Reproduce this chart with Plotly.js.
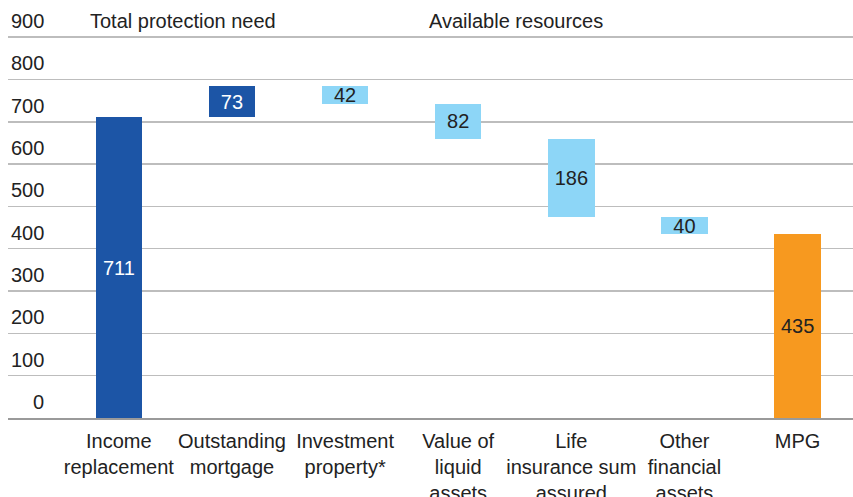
<!DOCTYPE html>
<html>
<head>
<meta charset="utf-8">
<script src="https://cdn.plot.ly/plotly-3.0.1.min.js"></script>
<style>
html,body{margin:0;padding:0;background:#fff;}
#chart{width:853px;height:497px;}
</style>
</head>
<body>
<div id="chart"></div>
<script>
// waterfall data
const categories = ['Income<br>replacement','Outstanding<br>mortgage','Investment<br>property*','Value of<br>liquid<br>assets','Life<br>insurance sum<br>assured','Other<br>financial<br>assets','MPG'];
const values = [711, 73, 42, 82, 186, 40, 435];
const bases = [0, 711, 742, 660, 474, 434, 0];
const kinds = ['need','need','res','res','res','res','gap'];
const yTicks = [0,100,200,300,400,500,600,700,800,900];

const colorFor = {need:'#1c55a6', res:'#8dd6f7', gap:'#f7991f'};
const textColorFor = {need:'#ffffff', res:'#222222', gap:'#222222'};
const FONT = 'Liberation Sans, Arial, sans-serif';

const trace = {
    type:'bar',
    x:categories,
    y:values,
    base:bases,
    width:0.41,
    marker:{color:kinds.map(k=>colorFor[k])},
    text:values.map(String),
    textposition:'inside',
    insidetextanchor:'middle',
    textangle:0,
    constraintext:'none',
    textfont:{size:20,color:kinds.map(k=>textColorFor[k]),family:FONT},
    hoverinfo:'none'
};

// y tick labels sit above the gridlines, right aligned
const tickNotes = yTicks.map(v=>({
    text:String(v), xref:'paper', yref:'y', x:38/845, y:v, yshift:16,
    xanchor:'right', yanchor:'middle', showarrow:false,
    font:{size:20,color:'#222',family:FONT}
}));

const layout = {
    width:853, height:497,
    margin:{l:8, r:0, t:16, b:79},
    paper_bgcolor:'#fff', plot_bgcolor:'#fff',
    showlegend:false,
    font:{family:FONT, size:20, color:'#222'},
    xaxis:{
        range:[-0.98, 6.49],
        showgrid:false, zeroline:false,
        showline:true, linecolor:'#9a9a9a', linewidth:1.5,
        ticks:'', tickfont:{size:20, color:'#222'},
        ticklabelstandoff:4
    },
    yaxis:{
        range:[0,950],
        tickvals:yTicks,
        showticklabels:false,
        showgrid:true, gridcolor:'#bdbdbd', gridwidth:1.5,
        zeroline:false, showline:false, ticks:''
    },
    annotations:tickNotes.concat([
        {text:'Total protection need', xref:'paper', yref:'paper', x:(88-8)/845, y:1, yshift:-5, xanchor:'left', yanchor:'middle', showarrow:false, font:{size:20,color:'#222'}},
        {text:'Available resources', xref:'paper', yref:'paper', x:(427-8)/845, y:1, yshift:-5, xanchor:'left', yanchor:'middle', showarrow:false, font:{size:20,color:'#222'}}
    ]),
    bargap:0
};

Plotly.newPlot('chart',[trace],layout,{displayModeBar:false,staticPlot:true});
</script>
</body>
</html>
